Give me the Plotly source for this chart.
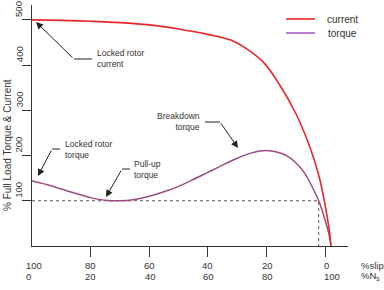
import plotly.graph_objects as go

# ---------------- data ----------------
slip_ticks = [100, 80, 60, 40, 20, 0]
ns_ticks = [0, 20, 40, 60, 80, 100]
y_ticks = [100, 200, 300, 400, 500]

torque_slip = [100, 95, 90, 85, 80, 75, 70, 65, 60, 55, 50, 45, 40, 35, 30, 25, 20, 15, 12, 10, 7, 4, 2, 0, -1, -1.5, -2]
torque_val = [144, 136, 126, 116, 107, 101, 100, 103, 110, 120, 132, 147, 163, 179, 194, 206, 211, 205, 195, 184, 161, 125, 97, 57, 34, 20, 0]

current_slip = [100, 90, 80, 70, 60, 50, 40, 32, 27, 21, 15.5, 10, 5, 2, 0, -1, -1.5, -2]
current_val = [500, 499, 497, 494, 489, 480, 468, 455, 437, 406, 356, 293, 215, 152, 90, 52, 30, 0]

ref_slip = [100, 2.2, 2.2]
ref_val = [100, 100, 0]

# ---------------- geometry helpers ----------------
W, H = 384, 290
L, R, T, B = 32, 36, 5, 44
X_RANGE = [100, -7.8]
Y_RANGE = [0, 533]


def xd(px):
    return X_RANGE[0] + (px - L) * (X_RANGE[1] - X_RANGE[0]) / (W - L - R)


def yd(py):
    return Y_RANGE[0] + (H - B - py) * (Y_RANGE[1] - Y_RANGE[0]) / (H - B - T)


def xp(px):
    return (px - L) / (W - L - R)


def yp(py):
    return (H - B - py) / (H - B - T)


FONT = "Liberation Sans"
TXT = "#333333"
RED = "#e8262a"
PURPLE = "#9c4c82"
LEG_PURPLE = "#a65bc5"

fig = go.Figure()
fig.add_trace(go.Scatter(x=ref_slip, y=ref_val, mode="lines",
                         line=dict(color="#555555", width=1, dash="dot"),
                         hoverinfo="skip", showlegend=False))
fig.add_trace(go.Scatter(x=torque_slip, y=torque_val, mode="lines", name="torque",
                         line=dict(color=PURPLE, width=1.5, shape="spline", smoothing=1.0),
                         showlegend=False))
fig.add_trace(go.Scatter(x=current_slip, y=current_val, mode="lines", name="current",
                         line=dict(color=RED, width=1.6, shape="spline", smoothing=1.0),
                         showlegend=False))

annotations = []
shapes = []

# x tick labels (two rows)
row1_shift = [2, 0, 0, 0, 1, 1]
row2_shift = [-4, 0, 1, 1, 1, 7]
for i, (s, n) in enumerate(zip(slip_ticks, ns_ticks)):
    xpos = (s - X_RANGE[0]) / (X_RANGE[1] - X_RANGE[0])
    annotations.append(dict(x=xpos, y=yp(265), xref="paper", yref="paper", text=str(s), showarrow=False,
                            xanchor="center", yanchor="middle", xshift=row1_shift[i],
                            font=dict(size=9.5, color=TXT, family=FONT)))
    annotations.append(dict(x=xpos, y=yp(276), xref="paper", yref="paper", text=str(n), showarrow=False,
                            xanchor="center", yanchor="middle", xshift=row2_shift[i],
                            font=dict(size=9.5, color=TXT, family=FONT)))
annotations.append(dict(x=xp(359), y=yp(265), xref="paper", yref="paper", text="%slip", showarrow=False,
                        xanchor="left", yanchor="middle", font=dict(size=9.5, color=TXT, family=FONT)))
annotations.append(dict(x=xp(359), y=yp(276), xref="paper", yref="paper", text="%N<sub>s</sub>", showarrow=False,
                        xanchor="left", yanchor="middle", font=dict(size=9.5, color=TXT, family=FONT)))

# y tick labels (rotated, sitting above each tick)
for v in y_ticks:
    ypos = (v - Y_RANGE[0]) / (Y_RANGE[1] - Y_RANGE[0])
    annotations.append(dict(x=xp(19), y=ypos, xref="paper", yref="paper", text=str(v), showarrow=False,
                            xanchor="center", yanchor="bottom", textangle=-90, yshift=1,
                            font=dict(size=9.5, color=TXT, family=FONT)))

# y axis title
annotations.append(dict(x=xp(7), y=yp(213), xref="paper", yref="paper", text="% Full Load Torque & Current",
                        showarrow=False, textangle=-90, xanchor="center", yanchor="bottom",
                        font=dict(size=10, color=TXT, family=FONT)))

# legend
for py, col, label in [(19, RED, "current"), (33, LEG_PURPLE, "torque")]:
    shapes.append(dict(type="line", xref="paper", yref="paper", x0=xp(286), x1=xp(315), y0=yp(py), y1=yp(py),
                       line=dict(color=col, width=1.6)))
    annotations.append(dict(x=xp(342), y=yp(py), xref="paper", yref="paper", text=label, showarrow=False,
                            xanchor="center", yanchor="middle", font=dict(size=10, color=TXT, family=FONT)))

# callouts: text, text anchor point, xanchor, align, segment (x0,x1,y), tip
callouts = [
    ("Locked rotor<br>current", (95, 58), "left", "left", (92, 74, 59), (36, 22)),
    ("Locked rotor<br>torque", (63, 149.5), "left", "left", (60, 52, 149), (38, 176)),
    ("Pull-up<br>torque", (131.5, 169), "left", "left", (130, 122, 169), (106, 197)),
    ("Breakdown<br>torque", (202, 121), "right", "right", (205, 220, 122), (238, 148)),
]
for text, (tx, ty), xa, al, (sx0, sx1, sy), (hx, hy) in callouts:
    annotations.append(dict(x=xd(tx), y=yd(ty), xref="x", yref="y", text=text, showarrow=False,
                            xanchor=xa, yanchor="middle", align=al,
                            font=dict(size=8.5, color=TXT, family=FONT)))
    shapes.append(dict(type="line", xref="x", yref="y", x0=xd(sx0), x1=xd(sx1), y0=yd(sy), y1=yd(sy),
                       line=dict(color="#222222", width=1)))
    annotations.append(dict(x=xd(hx), y=yd(hy), ax=xd(sx1), ay=yd(sy), xref="x", yref="y",
                            axref="x", ayref="y", text="", showarrow=True, arrowhead=2,
                            arrowsize=1.4, arrowwidth=1, arrowcolor="#222222", standoff=0))

fig.update_layout(
    width=W, height=H,
    margin=dict(l=L, r=R, t=T, b=B, pad=0),
    paper_bgcolor="white", plot_bgcolor="white",
    showlegend=False,
    font=dict(family=FONT, color=TXT),
    xaxis=dict(range=X_RANGE, showline=True, linecolor="#333333", linewidth=1.4,
               ticks="outside", ticklen=10, tickwidth=1.2, tickcolor="#333333",
               tickvals=[80, 60, 40, 20, 0], showticklabels=False,
               showgrid=False, zeroline=False, fixedrange=True),
    yaxis=dict(range=Y_RANGE, showline=True, linecolor="#333333", linewidth=1.4,
               ticks="outside", ticklen=9, tickwidth=1.2, tickcolor="#333333",
               tickvals=y_ticks, showticklabels=False,
               showgrid=False, zeroline=False, fixedrange=True),
    annotations=annotations,
    shapes=shapes,
)

fig.write_html("out.html", config={"displayModeBar": False})
